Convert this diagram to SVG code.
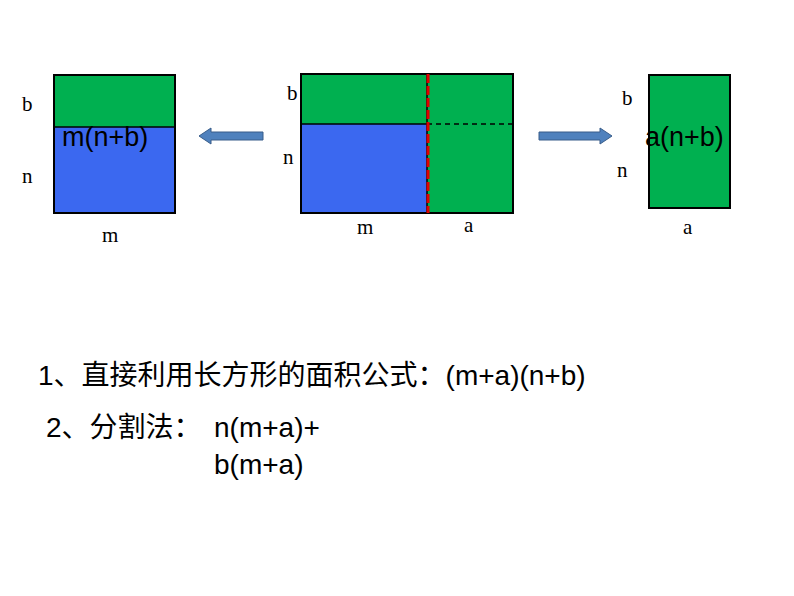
<svg xmlns="http://www.w3.org/2000/svg" width="794" height="596" viewBox="0 0 794 596">
<style>
.g{fill:#00b050}.bl{fill:#3b68f0}.o{fill:none;stroke:#000;stroke-width:2}
.t{font-family:"Liberation Serif",serif;font-size:21px;fill:#000}
.s{font-family:"Liberation Sans","Noto Sans CJK SC",sans-serif;font-size:28px;fill:#000}
.l{font-family:"Liberation Sans",sans-serif;font-size:27px;fill:#000}
.ar{fill:#4f81bd;stroke:#385d8a;stroke-width:1}
</style>
<rect width="794" height="596" fill="#fff"/>
<g id="left">
<rect class="g" x="54" y="75" width="121" height="52"/>
<rect class="bl" x="54" y="127" width="121" height="86"/>
<rect class="o" x="54" y="75" width="121" height="138"/>
<line x1="54" y1="127" x2="175" y2="127" stroke="#000" stroke-width="1.5"/>
<text class="t" x="22" y="111">b</text><text class="t" x="22" y="183">n</text><text class="t" x="102" y="242">m</text>
<text class="l" x="62" y="146">m(n+b)</text>
</g>
<g id="center">
<rect class="g" x="301" y="74" width="212" height="139"/>
<rect class="bl" x="301" y="124" width="126" height="89"/>
<rect class="o" x="301" y="74" width="212" height="139"/>
<line x1="301" y1="124" x2="427" y2="124" stroke="#000" stroke-width="1.5"/>
<line x1="427" y1="124" x2="513" y2="124" stroke="#000" stroke-width="1.5" stroke-dasharray="5,4"/>
<line x1="427" y1="74" x2="427" y2="213" stroke="#000" stroke-width="1.5"/>
<line x1="428" y1="74" x2="428" y2="213" stroke="#e00000" stroke-width="3" stroke-dasharray="9,3"/>
<text class="t" x="287" y="100">b</text><text class="t" x="283" y="164">n</text>
<text class="t" x="357" y="234">m</text><text class="t" x="464" y="232">a</text>
</g>
<g id="right">
<rect class="g" x="649" y="75" width="81" height="133"/>
<rect class="o" x="649" y="75" width="81" height="133"/>
<text class="t" x="622" y="105">b</text><text class="t" x="617" y="177">n</text><text class="t" x="683" y="234">a</text>
<text class="l" x="645" y="146">a(n+b)</text>
</g>
<g id="connectors">
<polygon class="ar" points="263,132 211,132 211,128 199,136 211,144 211,140 263,140"/>
<polygon class="ar" points="539,132 600,132 600,128 612,136 600,144 600,140 539,140"/>
</g>
<g id="text">
<text class="s" x="38" y="385">1、直接利用长方形的面积公式：(m+a)(n+b)</text>
<text class="s" x="46" y="437">2、分割法：<tspan x="214">n(m+a)+</tspan></text>
<text class="s" x="214" y="474">b(m+a)</text>
</g>
</svg>
